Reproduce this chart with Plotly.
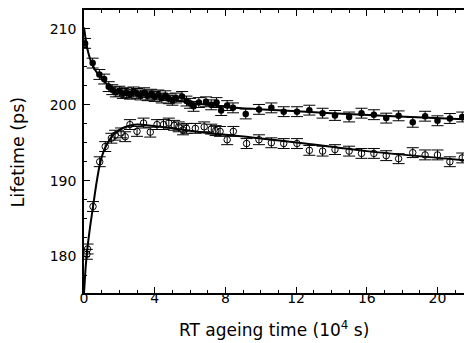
import plotly.graph_objects as go

# filled circles (upper series)
filled_x = [0.06, 0.49, 0.87, 1.14, 1.4, 1.6, 1.8, 2.0, 2.2, 2.4, 2.6, 2.8, 3.0, 3.2, 3.4, 3.6, 3.8,
            4.0, 4.2, 4.4, 4.6, 4.8, 5.0, 5.2, 5.55, 5.8, 6.0, 6.2, 6.5, 6.9, 7.2, 7.5, 7.76, 8.1,
            8.43, 9.15, 9.9, 10.6, 11.3, 12.05, 12.75, 13.5, 14.2, 15.0, 15.7, 16.4, 17.1, 17.8,
            18.6, 19.3, 20.0, 20.7, 21.4]
filled_y = [208.1, 205.5, 204.0, 203.4, 202.4, 202.0, 201.7, 201.8, 201.5, 201.6, 201.4, 201.7, 201.5,
            201.3, 201.6, 201.2, 201.4, 201.1, 201.3, 200.9, 201.2, 200.8, 200.6, 200.9, 201.1, 200.5,
            200.2, 199.8, 200.3, 200.4, 200.0, 200.3, 199.25, 199.9, 199.6, 198.8, 199.4, 199.6, 199.1,
            199.1, 199.3, 198.9, 198.6, 198.4, 198.9, 198.7, 198.25, 198.55, 197.7, 198.5, 197.9,
            198.2, 198.4]

# open circles (lower series)
open_x = [0.16, 0.2, 0.51, 0.89, 1.2, 1.55, 1.76, 2.1, 2.33, 2.6, 3.0, 3.37, 3.75, 4.13, 4.5, 4.8,
          5.1, 5.36, 5.6, 5.8, 6.3, 6.8, 7.2, 7.45, 7.7, 8.1, 8.45, 9.2, 9.9, 10.6, 11.3, 12.05,
          12.75, 13.5, 14.2, 15.0, 15.7, 16.4, 17.1, 17.8, 18.6, 19.3, 20.0, 20.7, 21.4]
open_y = [180.3, 181.0, 186.6, 192.5, 194.5, 195.6, 196.0, 196.3, 195.8, 197.4, 196.5, 197.6, 196.4,
          197.4, 197.4, 197.6, 197.3, 197.1, 196.7, 196.9, 196.9, 197.1, 196.8, 196.6, 196.5, 195.4,
          196.5, 194.9, 195.4, 195.0, 194.9, 194.9, 194.0, 193.9, 194.1, 193.9, 193.6, 193.6, 193.3,
          192.9, 193.7, 193.4, 193.4, 192.5, 193.0]

err_val = 0.65

# fit curves
fit_up_x = [0, 0.2, 0.45, 0.8, 1.15, 1.5, 1.9, 2.5, 3.3, 4.2, 5.2, 6.6, 8.5, 11, 14, 17.5, 21.5]
fit_up_y = [210.2, 207.3, 205.4, 204.0, 203.1, 202.3, 201.7, 201.5, 201.3, 201.0, 200.6, 200.1,
            199.6, 199.3, 198.9, 198.5, 198.1]
fit_lo_x = [0, 0.05, 0.1, 0.2, 0.35, 0.5, 0.7, 0.9, 1.1, 1.3, 1.6, 2.0, 2.5, 3.0, 4.0, 6.6, 9.5,
            12.5, 16, 21.5]
fit_lo_y = [175.2, 177.0, 178.8, 181.2, 184.0, 186.4, 189.6, 192.2, 193.8, 194.8, 195.9, 196.7,
            197.2, 197.4, 197.2, 196.4, 195.7, 194.9, 193.9, 192.7]

x_ticks = [0, 4, 8, 12, 16, 20]
y_ticks = [180, 190, 200, 210]

x_title = "RT ageing time (10<sup>4</sup> s)"
y_title = "Lifetime (ps)"

FONT = "DejaVu Sans"

fig = go.Figure()
fig.add_trace(go.Scatter(x=fit_up_x, y=fit_up_y, mode="lines",
                         line=dict(color="black", width=2, shape="spline", smoothing=0.8),
                         showlegend=False, hoverinfo="skip"))
fig.add_trace(go.Scatter(x=fit_lo_x, y=fit_lo_y, mode="lines",
                         line=dict(color="black", width=2, shape="spline", smoothing=0.8),
                         showlegend=False, hoverinfo="skip"))
fig.add_trace(go.Scatter(x=filled_x, y=filled_y, mode="markers",
                         marker=dict(symbol="circle", size=6.5, color="black"),
                         error_y=dict(type="constant", value=err_val, color="black",
                                      thickness=1, width=6),
                         showlegend=False))
fig.add_trace(go.Scatter(x=open_x, y=open_y, mode="markers",
                         marker=dict(symbol="circle-open", size=6.5, color="black",
                                     line=dict(width=1)),
                         error_y=dict(type="constant", value=err_val, color="black",
                                      thickness=1, width=6),
                         showlegend=False))

fig.update_layout(
    width=464, height=343,
    margin=dict(l=84, r=0, t=10, b=50, autoexpand=False),
    paper_bgcolor="white", plot_bgcolor="white",
    font=dict(family=FONT, color="black", size=14),
    showlegend=False,
    annotations=[
        dict(text=x_title, xref="paper", yref="paper", x=0.5, y=-0.08, xanchor="center",
             yanchor="top", showarrow=False, font=dict(size=17, family=FONT)),
        dict(text=y_title, xref="paper", yref="paper", x=-0.174, y=0.5, xanchor="center",
             yanchor="middle", textangle=-90, showarrow=False,
             font=dict(size=17.5, family=FONT)),
    ],
)
fig.update_xaxes(
    range=[0, 21.5], tickvals=x_ticks, ticktext=[str(v) for v in x_ticks],
    ticks="inside", ticklen=6, tickwidth=1, tickcolor="black",
    minor=dict(dtick=1, ticks="inside", ticklen=3, tickcolor="black"),
    showline=True, linecolor="black", linewidth=1.5, mirror="ticks",
    showgrid=False, zeroline=False, automargin=False,
    tickfont=dict(size=14, family=FONT), ticklabelstandoff=-9,
)
fig.update_yaxes(
    range=[175.2, 212.5], tickvals=y_ticks, ticktext=[str(v) for v in y_ticks],
    ticks="inside", ticklen=6, tickwidth=1, tickcolor="black",
    minor=dict(dtick=2.5, ticks="inside", ticklen=3, tickcolor="black"),
    showline=True, linecolor="black", linewidth=1.5,
    showgrid=False, zeroline=False, automargin=False,
    tickfont=dict(size=14, family=FONT), ticklabelstandoff=3,
)

fig.write_html("out.html", config={"displayModeBar": False},
               post_script="document.body.style.margin='0';document.body.style.overflow='hidden';")
